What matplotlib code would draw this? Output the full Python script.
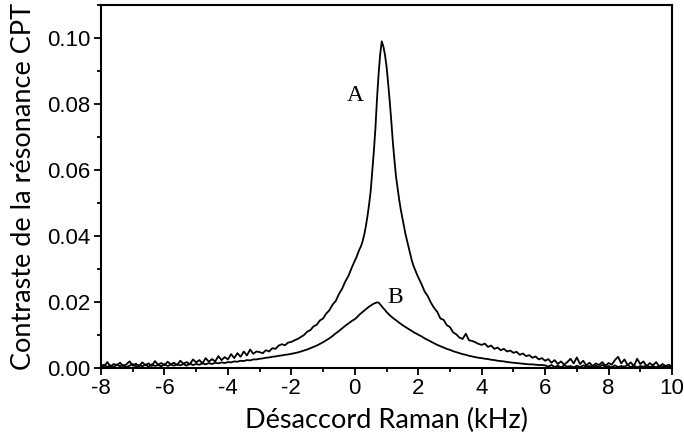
import numpy as np
import matplotlib
matplotlib.use("Agg")
import matplotlib.pyplot as plt
from matplotlib.ticker import MultipleLocator, FormatStrFormatter

plt.rcParams["axes.unicode_minus"] = False

# --- sampling grid (kHz): 0.1 in the wings, 0.05 around the resonance ---
x_left = np.round(np.arange(-8.0, -0.05, 0.1), 2)
x_core = np.round(np.arange(0.0, 1.99, 0.05), 2)
x_right = np.round(np.arange(2.0, 10.05, 0.1), 2)
detuning = np.concatenate([x_left, x_core, x_right])

# --- curve A ---
a_left = [
    0.0010, 0.0005, 0.0018, 0.0004, 0.0012, 0.0008, 0.0016, 0.0006, 0.0011, 0.0020,
    0.0007, 0.0013, 0.0005, 0.0017, 0.0009, 0.0014, 0.0006, 0.0021, 0.0010, 0.0015,
    0.0008, 0.0019, 0.0011, 0.0016, 0.0009, 0.0022, 0.0013, 0.0018, 0.0011, 0.0026,
    0.0017, 0.0024, 0.0014, 0.0030, 0.0019, 0.0027, 0.0020, 0.0036, 0.0024, 0.0033,
    0.0026, 0.0042, 0.0030, 0.0045, 0.0034, 0.0050, 0.0038, 0.0056, 0.0043, 0.0050,
    0.0048, 0.0045, 0.0054, 0.0050, 0.0060, 0.0058, 0.0068, 0.0072, 0.0069, 0.0077,
    0.0079, 0.0084, 0.0088, 0.0094, 0.0100, 0.0110, 0.0115, 0.0126, 0.0131, 0.0144,
    0.0150, 0.0165, 0.0175, 0.0192, 0.0203, 0.0224, 0.0240, 0.0262, 0.0279, 0.0303,
]
a_core = [
    0.0325, 0.0335, 0.0348, 0.0360, 0.0370, 0.0385, 0.0405, 0.0430, 0.0460, 0.0495,
    0.0535, 0.0595, 0.0655, 0.0725, 0.0815, 0.0890, 0.0950, 0.0990, 0.0975, 0.0950,
    0.0915, 0.0865, 0.0810, 0.0750, 0.0685, 0.0630, 0.0580, 0.0545, 0.0510, 0.0480,
    0.0455, 0.0430, 0.0405, 0.0385, 0.0365, 0.0345, 0.0325, 0.0310, 0.0298, 0.0286,
]
a_right = [
    0.0275, 0.0255, 0.0232, 0.0218, 0.0198, 0.0182, 0.0170, 0.0150, 0.0146, 0.0130,
    0.0124, 0.0108, 0.0102, 0.0092, 0.0088, 0.0104, 0.0084, 0.0082, 0.0078, 0.0073,
    0.0070, 0.0074, 0.0064, 0.0068, 0.0058, 0.0062, 0.0054, 0.0058, 0.0050, 0.0053,
    0.0046, 0.0049, 0.0040, 0.0044, 0.0036, 0.0039, 0.0031, 0.0035, 0.0026, 0.0030,
    0.0022, 0.0027, 0.0016, 0.0024, 0.0012, 0.0020, 0.0010, 0.0018, 0.0028, 0.0014,
    0.0032, 0.0012, 0.0022, 0.0008, 0.0016, 0.0006, 0.0014, 0.0009, 0.0018, 0.0007,
    0.0015, 0.0010, 0.0024, 0.0034, 0.0014, 0.0026, 0.0009, 0.0017, 0.0006, 0.0028,
    0.0012, 0.0020, 0.0005, 0.0015, 0.0008, 0.0018, 0.0004, 0.0012, 0.0006, 0.0010,
    0.0004,
]

# --- curve B ---
b_left = [
    0.0004, 0.0010, 0.0003, 0.0008, 0.0002, 0.0011, 0.0005, 0.0009, 0.0003, 0.0007,
    0.0012, 0.0004, 0.0009, 0.0005, 0.0010, 0.0004, 0.0011, 0.0006, 0.0009, 0.0005,
    0.0012, 0.0006, 0.0010, 0.0007, 0.0011, 0.0008, 0.0012, 0.0007, 0.0013, 0.0009,
    0.0012, 0.0010, 0.0014, 0.0011, 0.0015, 0.0012, 0.0016, 0.0014, 0.0017, 0.0015,
    0.0018, 0.0017, 0.0020, 0.0019, 0.0022, 0.0021, 0.0024, 0.0023, 0.0026, 0.0026,
    0.0028, 0.0029, 0.0031, 0.0032, 0.0034, 0.0035, 0.0037, 0.0038, 0.0040, 0.0041,
    0.0043, 0.0045, 0.0047, 0.0050, 0.0053, 0.0056, 0.0060, 0.0064, 0.0068, 0.0073,
    0.0078, 0.0084, 0.0090, 0.0097, 0.0105, 0.0112, 0.0120, 0.0128, 0.0135, 0.0142,
]
b_core = [
    0.0148, 0.0152, 0.0157, 0.0162, 0.0166, 0.0170, 0.0174, 0.0178, 0.0182, 0.0186,
    0.0189, 0.0192, 0.0195, 0.0197, 0.0199, 0.0198, 0.0193, 0.0187, 0.0181, 0.0176,
    0.0170, 0.0165, 0.0160, 0.0156, 0.0152, 0.0148, 0.0145, 0.0141, 0.0137, 0.0134,
    0.0130, 0.0127, 0.0124, 0.0121, 0.0118, 0.0115, 0.0112, 0.0109, 0.0106, 0.0104,
]
b_right = [
    0.0101, 0.0096, 0.0090, 0.0085, 0.0080, 0.0075, 0.0070, 0.0066, 0.0062, 0.0058,
    0.0055, 0.0051, 0.0048, 0.0045, 0.0042, 0.0040, 0.0037, 0.0035, 0.0033, 0.0031,
    0.0030, 0.0028, 0.0027, 0.0025, 0.0024, 0.0022, 0.0021, 0.0020, 0.0018, 0.0017,
    0.0016, 0.0015, 0.0014, 0.0013, 0.0012, 0.0011, 0.0011, 0.0010, 0.0009, 0.0009,
    0.0008, 0.0004, 0.0009, 0.0003, 0.0007, 0.0002, 0.0008, 0.0004, 0.0006, 0.0002,
    0.0007, 0.0003, 0.0008, 0.0004, 0.0006, 0.0002, 0.0007, 0.0003, 0.0009, 0.0004,
    0.0006, 0.0002, 0.0008, 0.0003, 0.0006, 0.0004, 0.0009, 0.0003, 0.0007, 0.0002,
    0.0006, 0.0004, 0.0008, 0.0003, 0.0006, 0.0002, 0.0007, 0.0004, 0.0006, 0.0003,
    0.0005,
]

contrast_a = np.array(a_left + a_core + a_right)
contrast_b = np.array(b_left + b_core + b_right)

# --- figure ---
fig = plt.figure(figsize=(6.84, 4.44), dpi=100)
ax = fig.add_axes([101 / 684, 1 - 368 / 444, 571 / 684, 363 / 444])

ax.plot(detuning, contrast_a, color="black", lw=1.3)
ax.plot(detuning, contrast_b, color="black", lw=1.3)

ax.text(0.0, 0.0826, "A", family="Liberation Serif", fontsize=17, ha="center", va="center")
ax.text(1.27, 0.0213, "B", family="Liberation Serif", fontsize=17, ha="center", va="center")

ax.set_xlim(-8, 10)
ax.set_ylim(0, 0.11)
ax.xaxis.set_major_locator(MultipleLocator(2))
ax.xaxis.set_minor_locator(MultipleLocator(1))
ax.yaxis.set_major_locator(MultipleLocator(0.02))
ax.yaxis.set_minor_locator(MultipleLocator(0.01))
ax.yaxis.set_major_formatter(FormatStrFormatter("%.2f"))

ax.tick_params(which="major", direction="out", length=5, width=1.3, labelsize=16, pad=2.5)
ax.tick_params(which="minor", direction="out", length=3, width=1.3)
for lab in ax.get_xticklabels() + ax.get_yticklabels():
    lab.set_family("Liberation Sans")
for sp in ax.spines.values():
    sp.set_linewidth(1.5)

ax.set_xlabel("Désaccord Raman (kHz)", family="Lato", fontsize=19.5, labelpad=6)
ax.set_ylabel("Contraste de la résonance CPT", family="Lato", fontsize=19.5, labelpad=8)

fig.savefig("out.png", dpi=100)
